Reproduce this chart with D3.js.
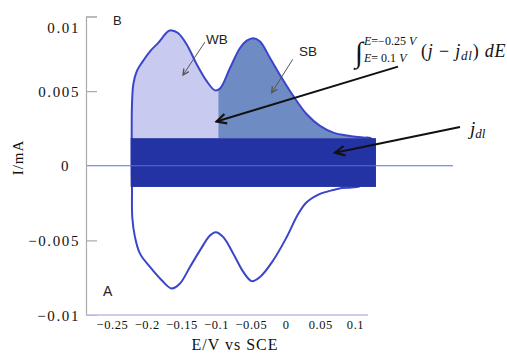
<!DOCTYPE html>
<html><head><meta charset="utf-8">
<script src="https://cdn.jsdelivr.net/npm/d3@7"></script>
<style>body{margin:0;background:#fff}svg{display:block}</style>
</head><body>
<svg id="chart" width="507" height="364"></svg>
<script>
// ---- data (E in V vs SCE, I in mA) ----
const xTicks = [-0.25, -0.2, -0.15, -0.1, -0.05, 0, 0.05, 0.1];
const yTicks = [-0.01, -0.005, 0, 0.005, 0.01];

const anodicE = [-0.2216, -0.2216, -0.2212, -0.2193, -0.2144, -0.2072, -0.1952, -0.1837, -0.1693, -0.1640,
  -0.1549, -0.1424, -0.1280, -0.1136, -0.1016, -0.0944, -0.0800, -0.0656, -0.0559, -0.0464,
  -0.0368, -0.0224, -0.0055, 0.0112, 0.0305, 0.0496, 0.0688, 0.0928, 0.1120, 0.1240];
const anodicI = [0.00013, 0.0030, 0.00413, 0.00547, 0.00633, 0.00689, 0.00767, 0.00822, 0.0090, 0.00907,
  0.00889, 0.00813, 0.0068, 0.00567, 0.00505, 0.00518, 0.00655, 0.00789, 0.00838, 0.00855,
  0.00833, 0.00722, 0.00589, 0.00467, 0.00345, 0.00267, 0.00222, 0.0020, 0.00189, 0.00180];

const cathodicE = [0.1120, 0.0808, 0.0687, 0.0496, 0.0304, 0.0183, 0.0016, -0.0177, -0.0368, -0.0488,
  -0.0609, -0.0753, -0.0897, -0.1006, -0.1089, -0.1233, -0.1377, -0.1521, -0.1640, -0.1784,
  -0.1953, -0.2097, -0.2169, -0.2208, -0.2212];
const cathodicI = [-0.00125, -0.00149, -0.00162, -0.00189, -0.00245, -0.00322, -0.00478, -0.00633, -0.00745, -0.00773,
  -0.00711, -0.00589, -0.00478, -0.00445, -0.00467, -0.00567, -0.00678, -0.00789, -0.00822, -0.00767,
  -0.00678, -0.00589, -0.00478, -0.00345, -0.00145];

const jdlI = [-0.00142, 0.00185];     // double-layer band (I range)
const jdlE = [-0.2231, 0.1302];       // double-layer band (E range)
const splitE = -0.0969;               // WB / SB boundary

// annotation arrows [E1, I1, E2, I2]
const arrowIntegral = [0.1619, 0.00664, -0.0995, 0.00296];
const arrowJdl = [0.2512, 0.0026, 0.0712, 0.00087];
const arrowWB = [-0.1161, 0.00829, -0.1477, 0.00608];
const arrowSB = [0.0103, 0.00713, -0.0200, 0.00489];

// ---- chart ----
const W = 507, H = 364;
const svg = d3.select("#chart");
const x = d3.scaleLinear().domain([-0.25, 0.1]).range([112, 355]);
const y = d3.scaleLinear().domain([-0.01, 0.01]).range([315, 16.5]);
const frameL = 86, frameR = 368, frameB = 315;

const anodic = anodicE.map((e, i) => [e, anodicI[i]]);
const cathodic = cathodicE.map((e, i) => [e, cathodicI[i]]);

const defs = svg.append("defs");
defs.append("clipPath").attr("id", "clipWB").append("rect")
  .attr("x", 0).attr("y", 0).attr("width", x(splitE)).attr("height", H);
defs.append("clipPath").attr("id", "clipSB").append("rect")
  .attr("x", x(splitE)).attr("y", 0).attr("width", W - x(splitE)).attr("height", H);
function marker(id, color, size) {
  defs.append("marker").attr("id", id).attr("viewBox", "-10 -6 12 12")
    .attr("refX", 0).attr("refY", 0).attr("markerWidth", size).attr("markerHeight", size)
    .attr("markerUnits", "userSpaceOnUse").attr("orient", "auto")
    .append("path").attr("d", "M-9,-4.5 L0,0 L-9,4.5").attr("fill", "none")
    .attr("stroke", color).attr("stroke-width", 2);
}
marker("arrBlack", "#111", 13);
marker("arrGrey", "#555", 8);

const area = d3.area().x(d => x(d[0])).y0(y(jdlI[1])).y1(d => y(d[1])).curve(d3.curveCatmullRom);
svg.append("path").datum(anodic).attr("d", area).attr("fill", "#c8cbef").attr("clip-path", "url(#clipWB)");
svg.append("path").datum(anodic).attr("d", area).attr("fill", "#6e8cc3").attr("clip-path", "url(#clipSB)");

const line = d3.line().x(d => x(d[0])).y(d => y(d[1])).curve(d3.curveCatmullRomClosed);
svg.append("path").datum(anodic.concat(cathodic)).attr("d", line)
  .attr("fill", "none").attr("stroke", "#3a45c9").attr("stroke-width", 2);

// double layer band
svg.append("rect").attr("x", x(jdlE[0])).attr("width", x(jdlE[1]) - x(jdlE[0]))
  .attr("y", y(jdlI[1])).attr("height", y(jdlI[0]) - y(jdlI[1])).attr("fill", "#2333a3");

// zero line
svg.append("line").attr("x1", frameL).attr("x2", 453).attr("y1", y(0)).attr("y2", y(0))
  .attr("stroke", "#5b6fd8").attr("stroke-width", 1);

// axes
const yTickAxis = svg.append("g").attr("transform", `translate(${frameL},0)`)
  .call(d3.axisRight(y).tickValues([0.01, 0.005, -0.005]).tickSize(11).tickSizeOuter(11).tickFormat(""));
yTickAxis.selectAll("path,line").attr("stroke", "#aaaaaa").attr("stroke-width", 1.2);

const fmt = d => (d < 0 ? "\u2212" : "") + String(Math.abs(d));
const yLab = svg.append("g").attr("transform", `translate(${frameL},0)`)
  .call(d3.axisLeft(y).tickValues(yTicks).tickSize(0).tickPadding(6).tickFormat(fmt));
yLab.select(".domain").remove();
yLab.selectAll("text").attr("font-family", "Liberation Serif").attr("font-size", 15)
  .attr("letter-spacing", 1.6).attr("fill", "#111")
  .attr("dy", d => d === 0.01 ? "1.05em" : "0.34em")
  .attr("dx", d => d === 0 ? -10 : 0);

svg.append("line").attr("x1", frameL).attr("x2", frameR).attr("y1", frameB).attr("y2", frameB)
  .attr("stroke", "#b9bde9").attr("stroke-width", 1.5);
const xLab = svg.append("g").attr("transform", `translate(0,${frameB})`)
  .call(d3.axisBottom(x).tickValues(xTicks).tickSize(0).tickPadding(5).tickFormat(fmt));
xLab.select(".domain").remove();
xLab.selectAll("text").attr("font-family", "Liberation Serif").attr("font-size", 12.5)
  .attr("letter-spacing", 0.6).attr("fill", "#111");

// axis titles
svg.append("text").attr("x", 235).attr("y", 350).attr("text-anchor", "middle")
  .attr("font-family", "Liberation Serif").attr("font-size", 16).attr("letter-spacing", 1)
  .attr("fill", "#111").text("E/V vs SCE");
svg.append("text").attr("transform", "translate(23,157.5) rotate(-90)").attr("text-anchor", "middle")
  .attr("font-family", "Liberation Serif").attr("font-size", 15).attr("letter-spacing", 1)
  .attr("fill", "#111").text("I/mA");

// labels
const sans = "Liberation Sans";
svg.append("text").attr("x", 113).attr("y", 24.5).attr("font-family", sans).attr("font-size", 13).attr("fill", "#222").text("B");
svg.append("text").attr("x", 103).attr("y", 296).attr("font-family", sans).attr("font-size", 14).attr("fill", "#222").text("A");
svg.append("text").attr("x", 206).attr("y", 43.5).attr("font-family", sans).attr("font-size", 13.5).attr("fill", "#222").text("WB");
svg.append("text").attr("x", 299).attr("y", 56).attr("font-family", sans).attr("font-size", 13.5).attr("fill", "#222").text("SB");

// arrows
function arrow(a, id, color, w) {
  svg.append("line").attr("x1", x(a[0])).attr("y1", y(a[1])).attr("x2", x(a[2])).attr("y2", y(a[3]))
    .attr("stroke", color).attr("stroke-width", w).attr("marker-end", `url(#${id})`);
}
arrow(arrowIntegral, "arrBlack", "#111", 2);
arrow(arrowJdl, "arrBlack", "#111", 2);
arrow(arrowWB, "arrGrey", "#555", 1);
arrow(arrowSB, "arrGrey", "#555", 1);

// integral formula
const serif = "Liberation Serif";
svg.append("text").attr("x", 355).attr("y", 62).attr("font-family", serif).attr("font-style", "italic")
  .attr("font-size", 29).attr("fill", "#111").text("\u222B");
const sup = svg.append("text").attr("x", 364).attr("y", 44.5).attr("font-family", serif)
  .attr("font-size", 12).attr("fill", "#111");
sup.append("tspan").attr("font-style", "italic").text("E");
sup.append("tspan").text("=\u22120.25 ");
sup.append("tspan").attr("font-style", "italic").text("V");
const sub = svg.append("text").attr("x", 364).attr("y", 62).attr("font-family", serif)
  .attr("font-size", 12).attr("fill", "#111");
sub.append("tspan").attr("font-style", "italic").text("E");
sub.append("tspan").text("= 0.1 ");
sub.append("tspan").attr("font-style", "italic").text("V");
const main = svg.append("text").attr("x", 421).attr("y", 57).attr("font-family", serif)
  .attr("font-size", 18).attr("letter-spacing", 0.8).attr("fill", "#111");
main.append("tspan").text("(");
main.append("tspan").attr("font-style", "italic").text("j");
main.append("tspan").text(" \u2212 ");
main.append("tspan").attr("font-style", "italic").text("j");
main.append("tspan").attr("font-style", "italic").attr("font-size", 13).attr("dy", 3).text("dl");
main.append("tspan").attr("dy", -3).text(")  ");
main.append("tspan").attr("font-style", "italic").text("dE");

// j_dl label
const jl = svg.append("text").attr("x", 470).attr("y", 135).attr("font-family", serif)
  .attr("font-size", 19).attr("font-style", "italic").attr("fill", "#111");
jl.append("tspan").text("j");
jl.append("tspan").attr("font-size", 13).attr("dy", 3).text("dl");
</script>
</body></html>
